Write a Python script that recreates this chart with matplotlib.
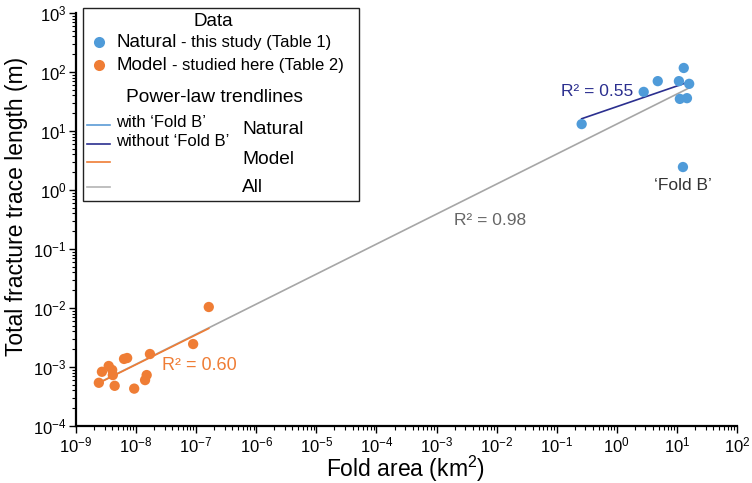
import numpy as np
import matplotlib
matplotlib.use('Agg')
import matplotlib.pyplot as plt
from matplotlib.lines import Line2D
from matplotlib.patches import Rectangle

plt.rcParams['font.family'] = ['Liberation Sans', 'DejaVu Sans']
plt.rcParams['axes.unicode_minus'] = False
plt.rcParams['mathtext.fontset'] = 'custom'
plt.rcParams['mathtext.rm'] = 'Liberation Sans'

# natural folds (this study) and the outlier 'Fold B'
nat_area = [0.26, 2.8, 4.8, 10.8, 13.0, 16.0, 11.2, 14.7]
nat_length = [13.1, 46, 70, 70, 117, 63, 35, 36]
foldb_area = 12.6
foldb_length = 2.45

# model folds
mod_area = [1.62e-7, 8.9e-8, 1.7e-8, 6.3e-9, 7.1e-9, 3.5e-9, 2.7e-9, 4.0e-9,
            4.1e-9, 2.4e-9, 4.4e-9, 9.3e-9, 1.5e-8, 1.41e-8]
mod_length = [1.04e-2, 2.45e-3, 1.66e-3, 1.37e-3, 1.42e-3, 1.04e-3, 8.3e-4, 8.9e-4,
              7.3e-4, 5.4e-4, 4.8e-4, 4.3e-4, 7.3e-4, 6.0e-4]

BLUE = '#4f9bd9'
ORANGE = '#ef7d35'
NAVY = '#2b2f8f'
LIGHTBLUE = '#5b9bd5'
GREY = '#a6a6a6'

W, H = 752, 483


def fx(px):
    return px / W


def fy(py):
    return 1 - py / H


def power_fit(x, y):
    x = np.asarray(x)
    y = np.asarray(y)
    b, a = np.polyfit(np.log10(x), np.log10(y), 1)
    xs = np.array([x.min(), x.max()])
    return xs, 10 ** (a + b * np.log10(xs))


fig = plt.figure(figsize=(7.52, 4.83), dpi=100)
ax = fig.add_axes([fx(76), fy(426), fx(737) - fx(76), fy(13) - fy(426)])
ax.set_xscale('log')
ax.set_yscale('log')
ax.set_xlim(1e-9, 1e2)
ax.set_ylim(1e-4, 1e3)

# trendlines
all_x = nat_area + [foldb_area] + mod_area
all_y = nat_length + [foldb_length] + mod_length
xs, ys = power_fit(all_x, all_y)
ax.plot(xs, ys, color=GREY, lw=1.2, zorder=1)
xs, ys = power_fit(mod_area, mod_length)
ax.plot(xs, ys, color=ORANGE, lw=1.2, zorder=2)
xs, ys = power_fit(nat_area, nat_length)
ax.plot(xs, ys, color=NAVY, lw=1.2, zorder=2)

ax.scatter(nat_area + [foldb_area], nat_length + [foldb_length], s=55,
           color=BLUE, edgecolors='none', zorder=3)
ax.scatter(mod_area, mod_length, s=55, color=ORANGE, edgecolors='none', zorder=3)

ax.text(0.12, 46, 'R² = 0.55', color=NAVY, fontsize=12.5, va='center', ha='left')
ax.text(1.95e-3, 0.30, 'R² = 0.98', color='#666666', fontsize=12.5, va='center', ha='left')
ax.text(2.7e-8, 1.07e-3, 'R² = 0.60', color=ORANGE, fontsize=13, va='center', ha='left')
ax.text(12.6, 1.2, '\u2018Fold B\u2019', color='#333333', fontsize=12.5, va='center', ha='center')

for s in ['top', 'right']:
    ax.spines[s].set_visible(False)
for s in ['left', 'bottom']:
    ax.spines[s].set_linewidth(1.6)
ax.tick_params(which='major', direction='out', length=5, width=1, labelsize=12, pad=2)
ax.tick_params(which='minor', direction='out', length=3, width=0.8)
ax.xaxis.set_major_locator(matplotlib.ticker.LogLocator(base=10, numticks=20))
ax.xaxis.set_minor_locator(matplotlib.ticker.LogLocator(base=10, subs=np.arange(2, 10), numticks=20))
ax.yaxis.set_major_locator(matplotlib.ticker.LogLocator(base=10, numticks=20))
ax.yaxis.set_minor_locator(matplotlib.ticker.LogLocator(base=10, subs=np.arange(2, 10), numticks=20))
ax.xaxis.set_minor_formatter(matplotlib.ticker.NullFormatter())
ax.yaxis.set_minor_formatter(matplotlib.ticker.NullFormatter())

# axis titles
fig.text(fx(406), fy(469), 'Fold area (km$^2$)', fontsize=16.5, ha='center', va='center')
fig.text(fx(17), fy(206), 'Total fracture trace length (m)', fontsize=16.5,
         ha='center', va='center', rotation=90)

# legend box drawn by hand
fig.patches.append(Rectangle((fx(83), fy(201)), fx(359) - fx(83), fy(8) - fy(201),
                             transform=fig.transFigure, fill=True, facecolor='white',
                             edgecolor='#222222', lw=1.0, zorder=5))
renderer = fig.canvas.get_renderer()


def two_part(px, py, big, small):
    t = fig.text(fx(px), fy(py), big, fontsize=13.5, ha='left', va='baseline', zorder=6)
    bb = t.get_window_extent(renderer)
    fig.text(bb.x1 / W + fx(4), fy(py), '- ' + small, fontsize=12, ha='left',
             va='baseline', zorder=6)


fig.text(fx(213), fy(22), 'Data', fontsize=13.5, ha='center', va='center', zorder=6)
fig.add_artist(Line2D([fx(99)], [fy(42)], marker='o', ms=8, color=BLUE, mec='none',
                      transform=fig.transFigure, zorder=6))
fig.add_artist(Line2D([fx(99)], [fy(65)], marker='o', ms=8, color=ORANGE, mec='none',
                      transform=fig.transFigure, zorder=6))
two_part(117, 47, 'Natural', 'this study (Table 1)')
two_part(117, 70, 'Model', 'studied here (Table 2)')
fig.text(fx(215), fy(97), 'Power-law trendlines', fontsize=13.8, ha='center', va='center', zorder=6)

for yy, col in [(125, LIGHTBLUE), (144, NAVY), (162, ORANGE), (187, '#b4b4b4')]:
    fig.add_artist(Line2D([fx(87), fx(110)], [fy(yy), fy(yy)], color=col, lw=1.2,
                          transform=fig.transFigure, zorder=6))
fig.text(fx(116), fy(123), 'with \u2018Fold B\u2019', fontsize=12, ha='left', va='center', zorder=6)
fig.text(fx(116), fy(142), 'without \u2018Fold B\u2019', fontsize=12, ha='left', va='center', zorder=6)
fig.text(fx(242), fy(130), 'Natural', fontsize=13.8, ha='left', va='center', zorder=6)
fig.text(fx(242), fy(160), 'Model', fontsize=13.8, ha='left', va='center', zorder=6)
fig.text(fx(242), fy(188), 'All', fontsize=13.8, ha='left', va='center', zorder=6)

fig.savefig('out.png', dpi=100)
